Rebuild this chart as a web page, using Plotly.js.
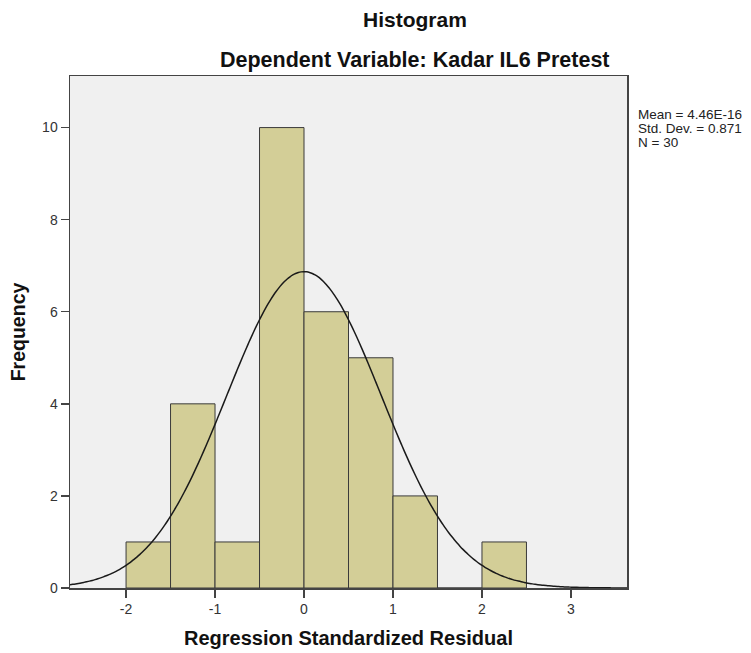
<!DOCTYPE html>
<html>
<head>
<meta charset="utf-8">
<script src="https://cdn.plot.ly/plotly-3.0.1.min.js"></script>
<style>html,body{margin:0;padding:0;background:#fff;}#chart{width:751px;height:653px;}</style>
</head>
<body>
<div id="chart"></div>
<script>
// Histogram bins (regression standardized residual), width 0.5
const binStarts = [-2.0, -1.5, -1.0, -0.5, 0.0, 0.5, 1.0, 1.5, 2.0];
const binWidth = 0.5;
const frequencies = [1, 4, 1, 10, 6, 5, 2, 0, 1];
// Summary statistics shown in the chart
const statMean = 4.46e-16;
const statSD = 0.871;
const statN = 30;
const statLabels = ["Mean = 4.46E-16", "Std. Dev. = 0.871", "N = 30"];
const xTicks = [-2, -1, 0, 1, 2, 3];
const yTicks = [0, 2, 4, 6, 8, 10];

const xRange = [-2.63, 3.63];
const yRange = [0, 11.12];

const centers = binStarts.map(s => s + binWidth / 2);

// Fitted normal curve scaled to counts
const curveX = [], curveY = [];
const steps = 200;
for (let i = 0; i <= steps; i++) {
  const x = xRange[0] + (xRange[1] - xRange[0]) * i / steps;
  const z = (x - statMean) / statSD;
  curveX.push(x);
  curveY.push(statN * binWidth / (statSD * Math.sqrt(2 * Math.PI)) * Math.exp(-0.5 * z * z));
}

const traces = [
  {
    type: 'bar', x: centers, y: frequencies, width: binWidth,
    marker: {color: '#D3CE97', line: {color: '#3a3a3a', width: 1}},
    hoverinfo: 'x+y', showlegend: false
  },
  {
    type: 'scatter', mode: 'lines', x: curveX, y: curveY,
    line: {color: '#1a1a1a', width: 1.5, shape: 'spline'},
    hoverinfo: 'skip', showlegend: false
  }
];

const font = 'Arial, "Liberation Sans", sans-serif';
const plotL = 70, plotR = 627, plotT = 76, plotB = 588;
const pw = plotR - plotL, ph = plotB - plotT;
const px = x => (x - plotL) / pw;
const py = y => (plotB - y) / ph;

const annotations = [
  {text: '<b>Histogram</b>', xref: 'paper', yref: 'paper', x: px(415), y: py(19),
   xanchor: 'center', yanchor: 'middle', showarrow: false, font: {family: font, size: 21, color: '#111'}},
  {text: '<b>Dependent Variable: Kadar IL6 Pretest</b>', xref: 'paper', yref: 'paper', x: px(415), y: py(60),
   xanchor: 'center', yanchor: 'middle', showarrow: false, font: {family: font, size: 21.5, color: '#111'}}
];
const statY = [114, 128, 142];
statLabels.forEach((t, i) => annotations.push({
  text: t, xref: 'paper', yref: 'paper', x: px(636), y: py(statY[i]),
  xanchor: 'left', yanchor: 'middle', align: 'left', showarrow: false,
  font: {family: font, size: 13.5, color: '#222'}
}));

const layout = {
  width: 751, height: 653,
  margin: {l: plotL, r: 751 - plotR, t: plotT, b: 653 - plotB},
  paper_bgcolor: '#ffffff',
  plot_bgcolor: '#F0F0F0',
  font: {family: font, size: 14, color: '#333'},
  bargap: 0,
  xaxis: {
    range: xRange, tickvals: xTicks, ticktext: xTicks.map(String),
    showgrid: false, zeroline: false,
    showline: true, linecolor: '#444', linewidth: 1.5, mirror: true,
    ticks: 'outside', ticklen: 8, tickcolor: '#444', tickwidth: 1.5,
    tickfont: {family: font, size: 14, color: '#333'},
    title: {text: 'Regression Standardized Residual', font: {family: font, size: 20, color: '#111', weight: 'bold'}, standoff: 14}
  },
  yaxis: {
    range: yRange, tickvals: yTicks, ticktext: yTicks.map(String),
    showgrid: false, zeroline: false,
    showline: true, linecolor: '#444', linewidth: 1.5, mirror: true,
    ticks: 'outside', ticklen: 8, tickcolor: '#444', tickwidth: 1.5,
    tickfont: {family: font, size: 14, color: '#333'},
    title: {text: 'Frequency', font: {family: font, size: 19.5, color: '#111', weight: 'bold'}, standoff: 11}
  },
  annotations: annotations
};

Plotly.newPlot('chart', traces, layout, {displayModeBar: false, staticPlot: true});
</script>
</body>
</html>
